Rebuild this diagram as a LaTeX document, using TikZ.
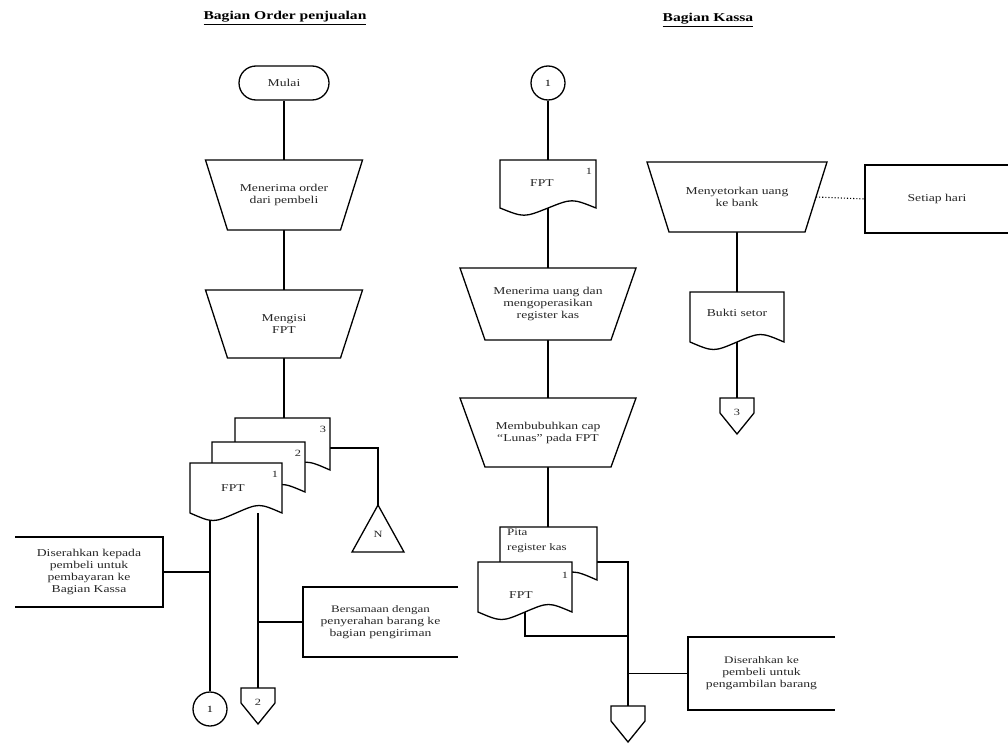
\documentclass[tikz,border=0pt]{standalone}
\usepackage{fontspec}
\setmainfont{Liberation Serif}[FakeStretch=1.3]
\usetikzlibrary{calc,backgrounds}
\tikzset{
  ln/.style={line width=1.1pt, draw=black},
  shp/.style={line width=1.3pt, draw=black, fill=white},
  brk/.style={line width=1.3pt, draw=black},
  geo/.style={inner sep=0pt, outer sep=0pt, draw=none},
  txt/.style={font=\fontsize{10.5}{12}\selectfont, align=center, inner sep=0pt, text=black!85},
  num/.style={font=\fontsize{9.5}{10}\selectfont, inner sep=0pt, text=black!85},
  ttl/.style={font=\fontsize{12}{13}\selectfont\bfseries, inner sep=0pt},
}
% trapezoid (manual operation): name, cx, ytop, w, h, inset, text
\newcommand\trapz[7]{%
  \node[geo, minimum width=#4pt, minimum height=#5pt, anchor=north] (#1) at (#2,#3) {};
  \draw[shp] (#1.north west) -- (#1.north east) -- ([xshift=-#6pt]#1.south east)
     -- ([xshift=#6pt]#1.south west) -- cycle;
  \node[txt] (#1-t) at (#1.center) {#7};
}
% document: name, xleft, ytop, w, h
\newcommand\docu[5]{%
  \node[geo, minimum width=#4pt, minimum height=#5pt, anchor=north west] (#1) at (#2,#3) {};
  \pgfmathsetmacro\mydw{#4*0.25}\pgfmathsetmacro\mydh{#5*0.2}
  \draw[shp] (#1.south west) -- (#1.north west) -- (#1.north east) -- (#1.south east)
     .. controls +(-\mydw,-\mydh) and +(\mydw,-\mydh) .. (#1.south)
     .. controls +(-\mydw,\mydh) and +(\mydw,\mydh) .. (#1.south west) -- cycle;
}
% off-page connector: name, cx, ytop, label
\newcommand\offp[4]{%
  \node[geo, minimum width=34pt, minimum height=36pt, anchor=north] (#1) at (#2,#3) {};
  \draw[shp] (#1.north west) -- (#1.north east) -- ([yshift=3pt]#1.east) -- (#1.south)
     -- ([yshift=3pt]#1.west) -- cycle;
  \node[num] (#1-t) at ([yshift=4pt]#1.center) {#4};
}
% annotation bracket open on left: name, cx, cy, w, h, text
\newcommand\annl[6]{%
  \node[geo, minimum width=#4pt, minimum height=#5pt] (#1) at (#2,#3) {};
  \draw[brk] (#1.north west) -- (#1.north east) -- (#1.south east) -- (#1.south west);
  \node[txt] (#1-t) at (#1.center) {#6};
}
% annotation bracket open on right
\newcommand\annr[6]{%
  \node[geo, minimum width=#4pt, minimum height=#5pt] (#1) at (#2,#3) {};
  \draw[brk] (#1.north east) -- (#1.north west) -- (#1.south west) -- (#1.south east);
  \node[txt] (#1-t) at (#1.center) {#6};
}
\begin{document}
\begin{tikzpicture}[x=1pt,y=-1pt]
\useasboundingbox (0,0) rectangle (1008,744);

% titles
\node[ttl] (t1) at (285,18) {\underline{Bagian Order penjualan}};
\node[ttl] (t2) at (708,20) {\underline{Bagian Kassa}};

% ---------------- left lane ----------------
\node[shp, rounded corners=17pt, minimum width=90pt, minimum height=34pt, inner sep=0pt,
      font=\fontsize{10.5}{12}\selectfont, text=black!85] (mulai) at (284,83) {Mulai};
\trapz{tr1}{284}{160}{157}{70}{22}{Menerima order\\dari pembeli}
\trapz{tr2}{284}{290}{157}{68}{22}{Mengisi\\FPT}

\docu{f3}{235}{418}{95}{52}
\node[num] (f3-n) at ([xshift=-7pt,yshift=-11pt]f3.north east) {3};
\docu{f2}{212}{442}{93}{50}
\node[num] (f2-n) at ([xshift=-7pt,yshift=-11pt]f2.north east) {2};
\docu{f1}{190}{463}{92}{50}
\node[num] (f1-n) at ([xshift=-7pt,yshift=-11pt]f1.north east) {1};
\node[txt] (f1-t) at ([xshift=-3pt]f1.center) {FPT};

\node[geo, minimum width=52pt, minimum height=47pt, anchor=north] (arch) at (378,505) {};
\draw[shp] (arch.north) -- (arch.south east) -- (arch.south west) -- cycle;
\node[num] (arch-t) at ([yshift=-6pt]arch.center) {N};

\node[shp, circle, minimum size=34pt, inner sep=0pt, font=\fontsize{9.5}{10}\selectfont] (c1) at (210,709) {1};
\offp{p2}{258}{688}{2}

\annl{ann1}{89}{572}{148}{70}{\fontsize{10.5}{16}\selectfont Diserahkan kepada\\pembeli untuk\\pembayaran ke\\Bagian Kassa}
\annr{ann2}{380.5}{622}{155}{70}{\fontsize{10}{14}\selectfont Bersamaan dengan\\penyerahan barang ke\\bagian pengiriman}

% ---------------- kassa lane ----------------
\node[shp, circle, minimum size=34pt, inner sep=0pt, font=\fontsize{9.5}{10}\selectfont] (c2) at (548,83) {1};
\docu{k1}{500}{160}{96}{48}
\node[num] (k1-n) at ([xshift=-7pt,yshift=-11pt]k1.north east) {1};
\node[txt] (k1-t) at ([xshift=-6pt,yshift=1pt]k1.center) {FPT};
\trapz{tr3}{548}{268}{176}{72}{25}{Menerima uang dan\\mengoperasikan\\register kas}
\trapz{tr4}{548}{398}{176}{69}{25}{Membubuhkan cap\\``Lunas'' pada FPT}

\docu{pita}{500}{527}{97}{53}
\node[txt, anchor=north west, align=left, font=\fontsize{10}{15}\selectfont] (pita-t) at (507,529) {Pita\\register kas};
\docu{fk}{478}{562}{94}{50}
\node[num] (fk-n) at ([xshift=-7pt,yshift=-13pt]fk.north east) {1};
\node[txt] (fk-t) at ([xshift=-4pt,yshift=-8pt]fk.center) {FPT};

\offp{p4}{628}{706}{}
\annr{ann3}{761.5}{673.5}{147}{73}{\fontsize{10}{16}\selectfont Diserahkan ke\\pembeli untuk\\pengambilan barang}

% ---------------- right column ----------------
\trapz{tr5}{737}{162}{180}{70}{22}{Menyetorkan uang\\ke bank}
\annr{ann4}{937}{199}{144}{68}{Setiap hari}
\docu{bs}{690}{292}{94}{50}
\node[txt] (bs-t) at ([yshift=4pt]bs.center) {Bukti setor};
\offp{p3}{737}{398}{3}

% ---------------- connectors ----------------
\begin{scope}[on background layer]
\draw[ln] (mulai.south) -- (tr1.north);
\draw[ln] (tr1.south) -- (tr2.north);
\draw[ln] (tr2.south) -- (tr2.south |- f3.north);
\draw[ln] ([yshift=-30pt]f3.north east) -| (arch.north);
\draw[ln] (c1.north |- f1.south) -- (c1.north);
\draw[ln] (p2.north |- f1.south) -- (p2.north);
\draw[ln] (ann1.east) -- (ann1.east -| c1.north);
\draw[ln] (ann2.west) -- (ann2.west -| p2.north);

\draw[ln] (c2.south) -- (c2.south |- k1.north);
\draw[ln] (k1.south) -- (k1.south |- tr3.north);
\draw[ln] (tr3.south) -- (tr4.north);
\draw[ln] (tr4.south) -- (tr4.south |- pita.north);
\draw[ln] ([yshift=-35pt]pita.north east) -| (p4.north);
\coordinate (kj) at (628,636);
\draw[ln] (fk.south) -- (fk.south |- kj) -- (kj);
\draw[ln] (ann3.west) -- (ann3.west -| p4.north);

\draw[ln] (tr5.south) -- (bs.north);
\draw[ln] (bs.south) -- (p3.north);
\draw[ln, dotted] ($(tr5.north east)!0.5!([xshift=-22pt]tr5.south east)$) -- (ann4.west);
\end{scope}
\end{tikzpicture}
\end{document}
